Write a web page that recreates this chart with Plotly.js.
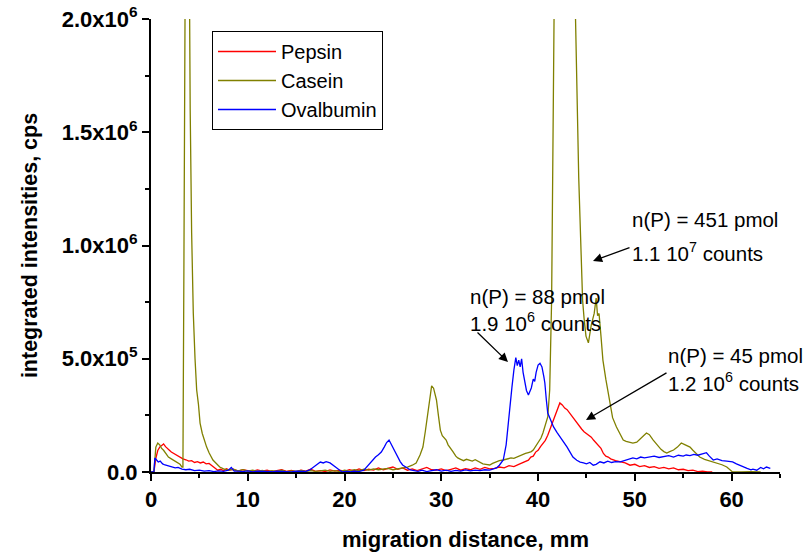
<!DOCTYPE html>
<html>
<head>
<meta charset="utf-8">
<script src="https://cdn.plot.ly/plotly-3.0.1.min.js"></script>
<style>html,body{margin:0;padding:0;background:#fff;}#chart{width:806px;height:552px;}</style>
</head>
<body>
<div id="chart"></div>
<script>
// migration distance (mm) and integrated intensities (in 10^3 cps)
const pepsinX = [0,0.3,0.5,0.7,0.9,1.1,1.3,1.5,1.7,1.9,2.1,2.4,2.7,3.0,3.3,3.6,3.9,4.2,4.5,4.8,5.1,5.4,5.7,6.0,6.3,6.6,6.9,7.2,7.5,7.8,8.1,8.5,9.0,9.5,10.0,10.5,11.0,11.5,12.0,12.5,13.0,13.5,14.0,14.5,15.0,15.5,16.0,16.5,17.0,17.5,18.0,18.5,19.0,19.5,20.0,20.5,21.0,21.5,22.0,22.5,23.0,23.5,24.0,24.5,25.0,25.5,26.0,26.5,27.0,27.5,28.0,28.5,29.0,29.5,30.0,30.5,31.0,31.5,32.0,32.5,33.0,33.5,34.0,34.5,35.0,35.5,36.0,36.5,37.0,37.5,38.0,38.5,39.0,39.25,39.5,39.75,40.0,40.25,40.5,40.75,41.0,41.25,41.5,41.75,42.0,42.25,42.5,42.75,43.0,43.25,43.5,43.75,44.0,44.25,44.5,44.75,45.0,45.25,45.5,45.75,46.0,46.25,46.5,46.75,47.0,47.25,47.5,48.0,48.5,49.0,49.5,50.0,50.5,51.0,51.5,52.0,52.5,53.0,53.5,54.0,54.5,55.0,55.5,56.0,56.5,57.0,57.5,58.0];
const pepsinY = [0,0,60,95,110,118,124,112,106,96,88,80,74,66,58,54,48,50,42,46,40,44,36,38,30,18,8,12,6,14,8,12,4,10,6,3,9,4,8,2,6,10,3,7,2,8,4,12,3,6,2,9,4,8,3,10,5,14,6,12,8,18,10,16,22,12,18,8,14,6,12,20,10,8,14,6,12,18,8,15,10,18,12,20,14,16,22,18,28,24,34,44,52,66,70,88,96,112,128,140,162,190,218,240,268,305,296,282,275,260,248,230,216,200,190,178,170,160,154,140,128,118,104,82,70,66,58,50,44,40,30,34,24,28,20,24,16,20,14,18,10,12,6,8,2,4,0,0];

const caseinX = [0,0.3,0.5,0.7,0.9,1.1,1.3,1.5,1.8,2.1,2.4,2.7,3.0,3.2,3.3,3.4,3.5,3.65,3.8,3.95,4.05,4.2,4.37,4.55,4.72,4.9,5.07,5.3,5.5,5.75,6.0,6.2,6.4,6.7,7.1,7.5,8.0,8.5,9.0,9.5,10.0,10.5,11.0,11.5,12.0,12.5,13.0,13.5,14.0,14.5,15.0,15.5,16.0,16.5,17.0,17.5,18.0,18.5,19.0,19.5,20.0,20.5,21.0,21.5,22.0,22.5,23.0,23.5,24.0,24.5,25.0,25.5,26.0,26.5,27.0,27.4,27.8,28.1,28.35,28.6,28.8,29.0,29.2,29.5,29.7,29.9,30.1,30.3,30.5,30.7,30.9,31.2,31.5,31.7,32.0,32.3,32.6,32.9,33.2,33.5,33.7,34.0,34.3,34.6,35.0,35.3,35.6,36.0,36.4,36.8,37.2,37.5,37.8,38.1,38.4,38.7,39.0,39.3,39.5,39.8,40.1,40.3,40.5,40.8,41.0,41.2,41.4,41.65,41.9,42.2,42.5,42.8,43.1,43.4,43.7,43.87,44.2,44.45,44.6,44.75,44.95,45.2,45.5,45.8,46.0,46.15,46.3,46.5,46.7,47.0,47.4,47.7,48.1,48.4,48.8,49.1,49.5,49.8,50.2,50.6,50.9,51.2,51.5,51.9,52.3,52.7,53.0,53.3,53.6,54.0,54.4,54.8,55.1,55.4,55.7,56.0,56.4,56.7,57.2,57.7,58.1,58.6,59.0,59.5,59.8,60.1,61.0,62.0,63.0];
const caseinY = [0,0,110,128,120,104,96,84,66,58,50,42,34,22,22,900,2000,3300,3400,2100,1600,1055,702,500,362,300,216,170,140,110,85,70,53,40,22,14,8,12,5,10,4,8,3,7,2,6,3,8,2,5,3,7,2,6,3,5,8,3,6,2,8,4,10,6,12,8,14,10,12,16,10,14,18,22,30,40,75,110,180,260,330,380,370,318,250,185,160,150,141,120,110,90,70,62,56,50,56,52,48,54,50,42,36,34,31,38,44,50,53,58,62,60,66,70,76,82,86,90,97,115,135,150,172,210,243,362,759,2000,3500,4800,5400,5400,4800,3800,2600,2000,1300,900,759,680,600,570,650,700,768,690,700,600,494,410,310,240,199,172,141,135,130,128,132,150,160,172,165,141,120,100,90,84,90,97,110,128,122,116,110,96,78,66,56,50,44,38,32,22,12,0,0,2,0];

const ovalbuminX = [0,0.3,0.4,0.55,0.75,0.95,1.2,1.45,1.7,2.1,2.5,2.8,3.2,3.6,4.0,4.5,5.0,5.5,6.0,6.5,7.0,7.5,8.0,8.3,8.6,9.0,9.5,10.0,10.5,11.0,11.5,12.0,12.5,13.0,13.5,14.0,14.5,15.0,15.5,16.0,16.4,16.8,17.2,17.5,17.8,18.1,18.5,18.8,19.2,19.5,19.8,20.2,20.6,21.0,21.5,22.0,22.3,22.6,22.9,23.2,23.5,23.8,24.1,24.35,24.6,24.8,25.0,25.25,25.5,25.75,26.0,26.4,26.8,27.2,27.6,28.0,28.5,29.0,29.5,30.0,30.5,31.0,31.5,32.0,32.5,33.0,33.5,34.0,34.5,35.0,35.4,35.7,36.0,36.4,36.7,36.9,37.1,37.3,37.5,37.7,37.85,38.0,38.15,38.3,38.45,38.6,38.8,39.0,39.15,39.3,39.5,39.65,39.8,40.0,40.2,40.4,40.6,40.7,40.85,41.0,41.3,41.6,41.95,42.3,42.65,43.0,43.3,43.6,44.0,44.35,44.7,45.0,45.35,45.7,46.0,46.4,46.8,47.2,47.6,48.0,48.5,49.0,49.4,49.8,50.2,50.6,51.0,51.5,52.0,52.5,53.0,53.5,54.0,54.5,55.0,55.3,55.7,56.1,56.5,57.0,57.4,57.7,58.1,58.5,59.0,59.5,60.1,60.5,60.9,61.2,61.6,62.0,62.2,62.6,63.0,63.3,63.6,64.0];
const ovalbuminY = [0,0,62,55,44,48,36,31,28,22,18,20,13,10,12,6,8,4,6,2,5,3,8,20,4,4,2,5,1,4,2,3,1,4,2,3,0,4,2,3,9,22,36,44,40,46,40,32,18,8,0,3,1,4,2,8,22,36,53,66,76,88,110,130,141,124,106,92,66,46,31,18,9,6,3,8,2,6,10,4,8,3,7,4,9,5,8,6,10,8,12,18,30,53,120,216,300,375,450,505,470,494,464,500,440,406,360,340,360,371,410,400,440,472,480,464,420,393,320,260,230,199,175,155,130,110,88,66,52,44,40,36,42,30,34,45,40,48,42,46,45,52,56,62,58,66,62,66,70,64,68,72,66,74,70,75,72,78,74,80,85,70,53,58,50,48,45,36,28,22,16,10,13,8,20,14,22,16];

const seriesNames = ['Pepsin','Casein','Ovalbumin'];
const seriesColors = ['#ff0000','#808000','#0000ff'];

const yTickVals = [0,500,1000,1500,2000];
const yTickText = ['0.0','5.0x10<sup>5</sup>','1.0x10<sup>6</sup>','1.5x10<sup>6</sup>','2.0x10<sup>6</sup>'];
const xTickVals = [0,10,20,30,40,50,60];

const font = 'Liberation Sans, Arial, sans-serif';

const traces = [
  {x: pepsinX, y: pepsinY},
  {x: caseinX, y: caseinY},
  {x: ovalbuminX, y: ovalbuminY}
].map((t, i) => ({
  x: t.x, y: t.y, type: 'scatter', mode: 'lines', name: seriesNames[i],
  line: {color: seriesColors[i], width: 1.3}, cliponaxis: true
}));

const annFont = {family: font, size: 20.5, color: '#000'};
const layout = {
  width: 806, height: 552,
  margin: {l: 151, r: 26, t: 19, b: 80, pad: 0},
  paper_bgcolor: '#fff', plot_bgcolor: '#fff',
  showlegend: true,
  legend: {x: (212-151)/629, y: 1 - (31-19)/453, xanchor: 'left', yanchor: 'top', bordercolor: '#000', borderwidth: 1,
           bgcolor: '#fff', font: {family: font, size: 20, color: '#000'}, tracegroupgap: 0, itemwidth: 58},
  xaxis: {
    range: [0, 65], showgrid: false, zeroline: false, showline: true, linecolor: '#000', linewidth: 2,
    ticks: 'outside', ticklen: 7, tickwidth: 2, tickcolor: '#000',
    tickvals: xTickVals, ticktext: xTickVals.map(String),
    minor: {ticks: 'outside', ticklen: 4, tickwidth: 2, tickcolor: '#000', dtick: 5, showgrid: false},
    tickfont: {family: font, size: 22, color: '#000', weight: 'bold'},
    title: {text: '<b>migration distance, mm</b>', font: {family: font, size: 22, color: '#000'}, standoff: 20}
  },
  yaxis: {
    range: [0, 2000], showgrid: false, zeroline: false, showline: true, linecolor: '#000', linewidth: 2,
    ticks: 'outside', ticklen: 7, tickwidth: 2, tickcolor: '#000',
    tickvals: yTickVals, ticktext: yTickText,
    minor: {ticks: 'outside', ticklen: 4, tickwidth: 2, tickcolor: '#000', dtick: 250, showgrid: false},
    tickfont: {family: font, size: 22, color: '#000', weight: 'bold'},
    title: {text: '<b>integrated intensities, cps</b>', font: {family: font, size: 21.5, color: '#000'}, standoff: 18}
  },
  annotations: [
    {xref: 'paper', yref: 'paper', x: (468-151)/629, y: (552-80-296)/453, xanchor: 'left', yanchor: 'middle',
     text: 'n(P) = 88 pmol', showarrow: false, font: annFont},
    {xref: 'paper', yref: 'paper', x: (468-151)/629, y: (552-80-322)/453, xanchor: 'left', yanchor: 'middle',
     text: '1.9 10<sup>6</sup> counts', showarrow: false, font: annFont},
    {xref: 'paper', yref: 'paper', x: (630-151)/629, y: (552-80-219)/453, xanchor: 'left', yanchor: 'middle',
     text: 'n(P) = 451 pmol', showarrow: false, font: annFont},
    {xref: 'paper', yref: 'paper', x: (630-151)/629, y: (552-80-252)/453, xanchor: 'left', yanchor: 'middle',
     text: '1.1 10<sup>7</sup> counts', showarrow: false, font: annFont},
    {xref: 'paper', yref: 'paper', x: (666-151)/629, y: (552-80-355)/453, xanchor: 'left', yanchor: 'middle',
     text: 'n(P) = 45 pmol', showarrow: false, font: annFont},
    {xref: 'paper', yref: 'paper', x: (666-151)/629, y: (552-80-382)/453, xanchor: 'left', yanchor: 'middle',
     text: '1.2 10<sup>6</sup> counts', showarrow: false, font: annFont},
    {xref: 'paper', yref: 'paper', x: (508-151)/629, y: (552-80-362)/453, ax: 476-508, ay: 331-362,
     showarrow: true, arrowhead: 2, arrowsize: 1.4, arrowwidth: 1.3, arrowcolor: '#000', text: ''},
    {xref: 'paper', yref: 'paper', x: (593-151)/629, y: (552-80-261)/453, ax: 631-593, ay: 247-261,
     showarrow: true, arrowhead: 2, arrowsize: 1.4, arrowwidth: 1.3, arrowcolor: '#000', text: ''},
    {xref: 'paper', yref: 'paper', x: (586-151)/629, y: (552-80-420)/453, ax: 668-586, ay: 372-420,
     showarrow: true, arrowhead: 2, arrowsize: 1.4, arrowwidth: 1.3, arrowcolor: '#000', text: ''}
  ]
};

Plotly.newPlot('chart', traces, layout, {displayModeBar: false, staticPlot: true});
</script>
</body>
</html>
